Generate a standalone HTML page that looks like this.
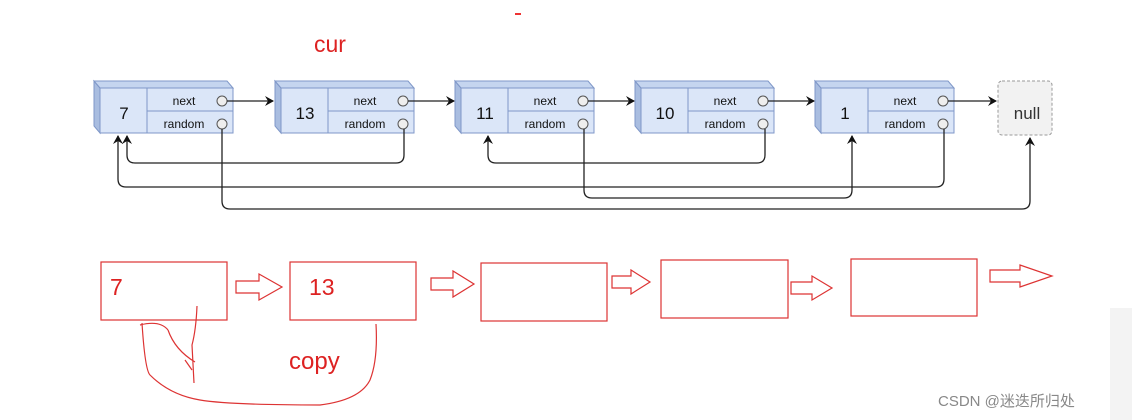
<!DOCTYPE html>
<html><head><meta charset="utf-8"><style>body{margin:0;background:#fff}svg{display:block}</style></head><body>
<svg width="1132" height="420" xmlns="http://www.w3.org/2000/svg" font-family="Liberation Sans, sans-serif">
<defs><marker id="a" markerWidth="10" markerHeight="10" refX="8" refY="5" orient="auto" markerUnits="userSpaceOnUse"><path d="M0,0 L9,5 L0,10 L3,5z" fill="#111"/></marker>
<g id="n">
<path d="M0,0 L6,7 L6,52 L0,45z" fill="#a9bde0" stroke="#7f97c8"/>
<path d="M0,0 L133,0 L139,7 L6,7z" fill="#c5d5ef" stroke="#7f97c8"/>
<rect x="6" y="7" width="133" height="45" fill="#dbe6f8" stroke="#7f97c8"/>
<line x1="53" y1="7" x2="53" y2="52" stroke="#7f97c8"/><line x1="53" y1="30" x2="139" y2="30" stroke="#7f97c8"/>
<text x="90" y="24" font-size="12" text-anchor="middle" fill="#111">next</text>
<text x="90" y="47" font-size="12" text-anchor="middle" fill="#111">random</text>
<circle cx="128" cy="20" r="5" fill="#eee" stroke="#555"/><circle cx="128" cy="43" r="5" fill="#eee" stroke="#555"/>
</g></defs>
<rect x="1110" y="308" width="22" height="112" fill="#f3f3f3"/>
<rect x="515" y="13" width="6" height="2" fill="#e33"/>
<text x="314" y="52" font-size="23" fill="#d22">cur</text>
<use href="#n" x="94" y="81"/><use href="#n" x="275" y="81"/><use href="#n" x="455" y="81"/><use href="#n" x="635" y="81"/><use href="#n" x="815" y="81"/>
<g font-size="17" text-anchor="middle" fill="#111">
<text x="124" y="119">7</text><text x="305" y="119">13</text><text x="485" y="119">11</text><text x="665" y="119">10</text><text x="845" y="119">1</text>
</g>
<rect x="998" y="81" width="54" height="54" rx="4" fill="#f2f2f2" stroke="#999" stroke-dasharray="3,2"/>
<text x="1027" y="119" font-size="17" text-anchor="middle" fill="#333">null</text>
<g fill="none" stroke="#222" stroke-width="1.3" marker-end="url(#a)">
<path d="M227,101 H273"/><path d="M408,101 H454"/><path d="M588,101 H634"/><path d="M768,101 H814"/><path d="M948,101 H996"/>
<path d="M404,129 V155 Q404,163 396,163 H135 Q127,163 127,155 V136"/>
<path d="M765,129 V155 Q765,163 757,163 H496 Q488,163 488,155 V136"/>
<path d="M944,129 V179 Q944,187 936,187 H126 Q118,187 118,179 V136"/>
<path d="M584,129 V190 Q584,198 592,198 H844 Q852,198 852,190 V136"/>
<path d="M222,129 V201 Q222,209 230,209 H1022 Q1030,209 1030,201 V138"/>
</g>
<g fill="none" stroke="#d33" stroke-width="1.2">
<rect x="101" y="262" width="126" height="58"/><rect x="290" y="262" width="126" height="58"/>
<rect x="481" y="263" width="126" height="58"/><rect x="661" y="260" width="127" height="58"/><rect x="851" y="259" width="126" height="57"/>
<path d="M236,281 H259 V274 L282,287 L259,300 V293 H236z"/>
<path d="M431,278 H453 V271 L474,284 L453,297 V290 H431z"/>
<path d="M612,276 H631 V270 L650,282 L631,294 V288 H612z"/>
<path d="M791,282 H812 V276 L832,288 L812,300 V294 H791z"/>
<path d="M990,270 H1020 V265 L1052,276 L1020,287 V282 H990z"/>
<path d="M197,306 Q196,330 192,345 Q193,365 194,383 M168,330 Q175,350 195,362 M185,360 L192,370"/>
<path d="M140,325 Q160,320 168,330 M142,323 Q145,370 150,375 Q170,395 200,400 Q230,405 320,405 Q360,400 370,380 Q378,360 376,324"/>
</g>
<text x="110" y="295" font-size="23" fill="#d22">7</text>
<text x="309" y="295" font-size="23" fill="#d22">13</text>
<text x="289" y="369" font-size="24" fill="#d22">copy</text>
<text x="938" y="406" font-size="15" fill="#888">CSDN @迷迭所归处</text>
</svg>
</body></html>
